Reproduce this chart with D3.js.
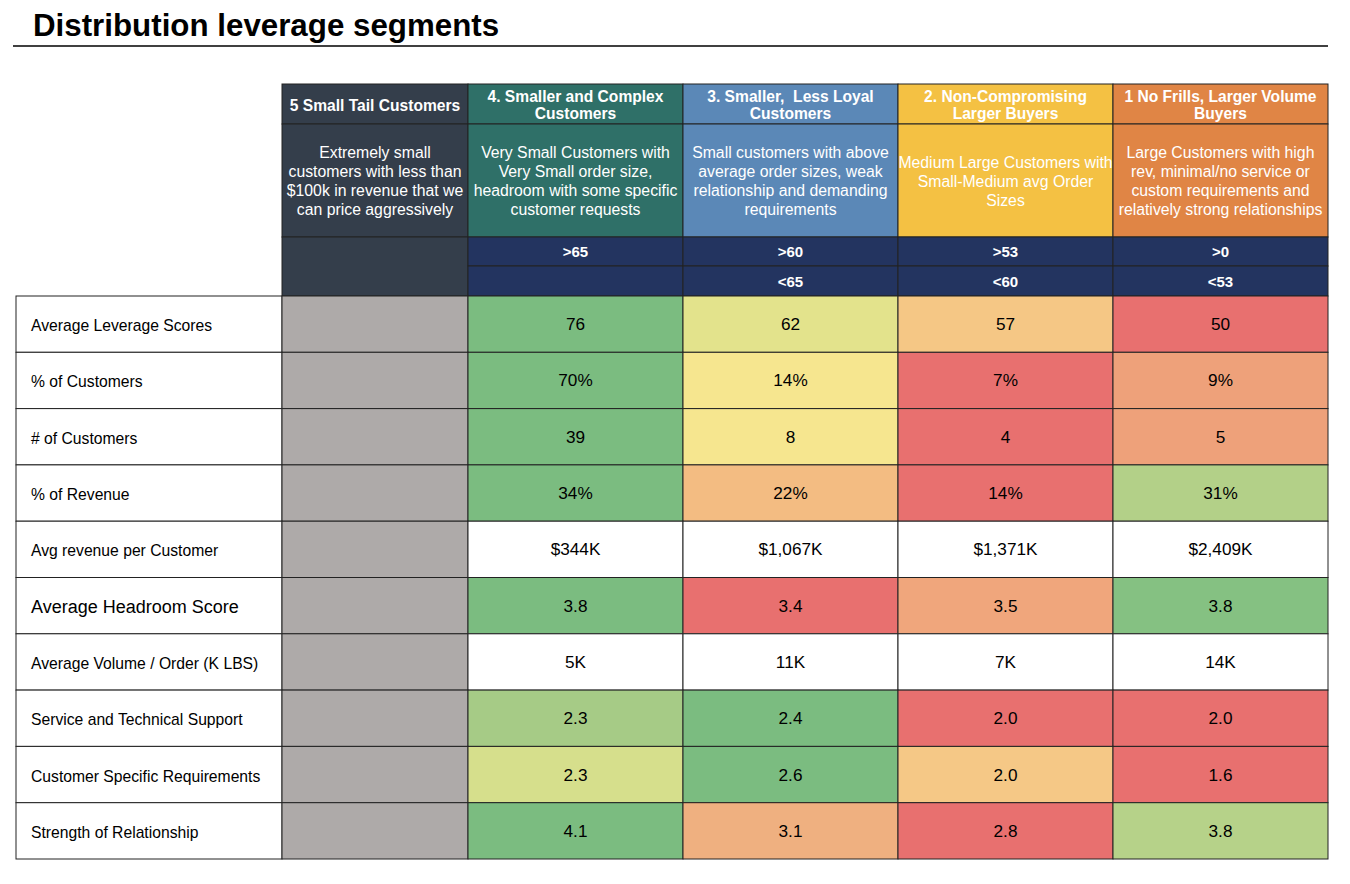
<!DOCTYPE html>
<html>
<head>
<meta charset="utf-8">
<script src="https://cdn.jsdelivr.net/npm/d3@7"></script>
<style>
  body { margin: 0; background: #fff; }
  svg text { font-family: "Liberation Sans", Arial, sans-serif; white-space: pre; }
</style>
</head>
<body>
<svg id="chart" width="1350" height="884"></svg>
<script>
// segments, left to right
const segments = [
  "5 Small Tail Customers",
  "4. Smaller and Complex Customers",
  "3. Smaller,  Less Loyal Customers",
  "2. Non-Compromising Larger Buyers",
  "1 No Frills, Larger Volume Buyers"
];
const segmentNameLines = [
  ["5 Small Tail Customers"],
  ["4. Smaller and Complex", "Customers"],
  ["3. Smaller,  Less Loyal", "Customers"],
  ["2. Non-Compromising", "Larger Buyers"],
  ["1 No Frills, Larger Volume", "Buyers"]
];
const segmentDescLines = [
  ["Extremely small", "customers with less than", "$100k in revenue that we", "can price aggressively"],
  ["Very Small Customers with", "Very Small order size,", "headroom with some specific", "customer requests"],
  ["Small customers with above", "average order sizes, weak", "relationship and demanding", "requirements"],
  ["Medium Large Customers with", "Small-Medium avg Order", "Sizes"],
  ["Large Customers with high", "rev, minimal/no service or", "custom requirements and", "relatively strong relationships"]
];
const segmentColors = ["#343e4b", "#2f7068", "#5b88b7", "#f4c143", "#e08545"];
const lowerBounds = ["", ">65", ">60", ">53", ">0"];
const upperBounds = ["", "", "<65", "<60", "<53"];

const metrics = [
  "Average Leverage Scores",
  "% of Customers",
  "# of Customers",
  "% of Revenue",
  "Avg revenue per Customer",
  "Average Headroom Score",
  "Average Volume / Order (K LBS)",
  "Service and Technical Support",
  "Customer Specific Requirements",
  "Strength of Relationship"
];
// values for segments 4, 3, 2, 1 (segment 5 has no data)
const values = [
  ["76", "62", "57", "50"],
  ["70%", "14%", "7%", "9%"],
  ["39", "8", "4", "5"],
  ["34%", "22%", "14%", "31%"],
  ["$344K", "$1,067K", "$1,371K", "$2,409K"],
  ["3.8", "3.4", "3.5", "3.8"],
  ["5K", "11K", "7K", "14K"],
  ["2.3", "2.4", "2.0", "2.0"],
  ["2.3", "2.6", "2.0", "1.6"],
  ["4.1", "3.1", "2.8", "3.8"]
];
const cellColors = [
  ["#7bbc80", "#e3e38c", "#f5c785", "#e8706f"],
  ["#7bbc80", "#f6e68f", "#e8706f", "#eea17a"],
  ["#7bbc80", "#f6e68f", "#e8706f", "#eea17a"],
  ["#7bbc80", "#f3bc82", "#e8706f", "#b3d088"],
  ["#ffffff", "#ffffff", "#ffffff", "#ffffff"],
  ["#7bbc80", "#e8706f", "#f0a67c", "#85c182"],
  ["#ffffff", "#ffffff", "#ffffff", "#ffffff"],
  ["#a6cb86", "#7bbc80", "#e8706f", "#e8706f"],
  ["#d6df8c", "#7bbc80", "#f5c886", "#e8706f"],
  ["#7bbc80", "#efb080", "#e8706f", "#b6d289"]
];

const svg = d3.select("#chart");

// title
svg.append("text")
  .attr("x", 33).attr("y", 36)
  .attr("font-size", 31.3).attr("font-weight", "bold")
  .text("Distribution leverage segments");
svg.append("line")
  .attr("x1", 13).attr("x2", 1328).attr("y1", 46).attr("y2", 46)
  .attr("stroke", "#000").attr("stroke-width", 1.5);

// layout
const tableLeft = 16, labelRight = 282, tailRight = 468, tableRight = 1328;
const headTop = 84, nameBottom = 124, descBottom = 237, thrMid = 266, headBottom = 296;
const tableBottom = 859;

const colX = d3.scaleBand().domain(d3.range(1, 5)).range([tailRight, tableRight]);
const segLeft = i => i === 0 ? labelRight : colX(i);
const segWidth = i => i === 0 ? tailRight - labelRight : colX.bandwidth();

const rowY = d3.scaleBand().domain(metrics).range([headBottom, tableBottom]);

const border = "#222";

// header: segment names
const head = svg.append("g").attr("class", "header");
segments.forEach((s, i) => {
  const x = segLeft(i), w = segWidth(i);
  // name row
  head.append("rect").attr("x", x).attr("y", headTop).attr("width", w)
    .attr("height", nameBottom - headTop).attr("fill", segmentColors[i])
    .attr("stroke", border).attr("stroke-width", 1);
  const nl = segmentNameLines[i];
  head.append("text")
    .attr("text-anchor", "middle").attr("font-size", 15.6).attr("font-weight", "bold")
    .attr("fill", "#fff")
    .selectAll("tspan").data(nl).join("tspan")
    .attr("x", x + w / 2)
    .attr("y", (d, k) => (headTop + nameBottom) / 2 + 6.5 + (k - (nl.length - 1) / 2) * 17)
    .text(d => d);
  // description row
  head.append("rect").attr("x", x).attr("y", nameBottom).attr("width", w)
    .attr("height", descBottom - nameBottom).attr("fill", segmentColors[i])
    .attr("stroke", border).attr("stroke-width", 1);
  const dl = segmentDescLines[i];
  head.append("text")
    .attr("text-anchor", "middle").attr("font-size", 15.8)
    .attr("fill", "#fff")
    .selectAll("tspan").data(dl).join("tspan")
    .attr("x", x + w / 2)
    .attr("y", (d, k) => (nameBottom + descBottom) / 2 + 6 + (k - (dl.length - 1) / 2) * 19)
    .text(d => d);
  // threshold rows
  if (i === 0) {
    head.append("rect").attr("x", x).attr("y", descBottom).attr("width", w)
      .attr("height", headBottom - descBottom).attr("fill", segmentColors[0])
      .attr("stroke", border).attr("stroke-width", 1);
  } else {
    [[descBottom, thrMid, lowerBounds[i]], [thrMid, headBottom, upperBounds[i]]].forEach(([y0, y1, t]) => {
      head.append("rect").attr("x", x).attr("y", y0).attr("width", w)
        .attr("height", y1 - y0).attr("fill", "#233460")
        .attr("stroke", border).attr("stroke-width", 1);
      head.append("text").attr("x", x + w / 2).attr("y", (y0 + y1) / 2 + 5.5)
        .attr("text-anchor", "middle").attr("font-size", 15).attr("font-weight", "bold")
        .attr("fill", "#fff").text(t);
    });
  }
});

// body rows
const rows = svg.append("g").attr("class", "body")
  .selectAll("g").data(metrics).join("g")
  .attr("transform", d => `translate(0,${rowY(d)})`);

rows.append("rect")
  .attr("x", tableLeft).attr("width", labelRight - tableLeft)
  .attr("height", rowY.bandwidth()).attr("fill", "#fff")
  .attr("stroke", border).attr("stroke-width", 1);
rows.append("text")
  .attr("x", tableLeft + 15).attr("y", (d, i) => rowY.bandwidth() / 2 + (i === 5 ? 7.5 : 7))
  .attr("font-size", (d, i) => i === 5 ? 18 : 15.7)
  .text(d => d);

rows.append("rect")
  .attr("x", labelRight).attr("width", tailRight - labelRight)
  .attr("height", rowY.bandwidth()).attr("fill", "#aeaaa9")
  .attr("stroke", border).attr("stroke-width", 1);

rows.each(function (m, r) {
  const g = d3.select(this);
  const cells = g.selectAll("g.cell").data(values[r]).join("g").attr("class", "cell");
  cells.append("rect")
    .attr("x", (d, c) => colX(c + 1)).attr("width", colX.bandwidth())
    .attr("height", rowY.bandwidth())
    .attr("fill", (d, c) => cellColors[r][c])
    .attr("stroke", border).attr("stroke-width", 1);
  cells.append("text")
    .attr("x", (d, c) => colX(c + 1) + colX.bandwidth() / 2)
    .attr("y", rowY.bandwidth() / 2 + 6)
    .attr("text-anchor", "middle").attr("font-size", 17.2)
    .text(d => d);
});
</script>
</body>
</html>
